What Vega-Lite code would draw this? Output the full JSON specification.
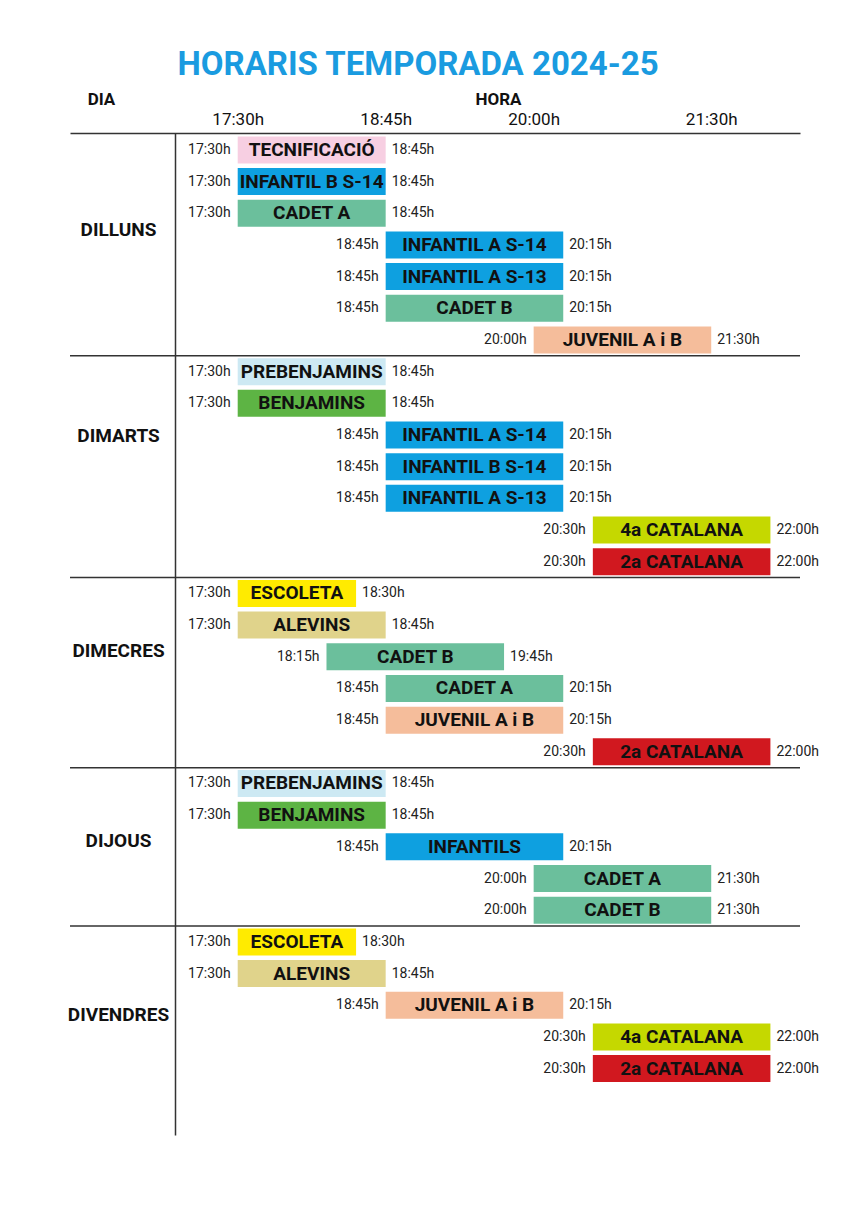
{
  "$schema": "https://vega.github.io/schema/vega-lite/v6.json",
  "width": 730,
  "height": 1002,
  "autosize": {"type": "none"},
  "padding": {"left": 70, "top": 133, "right": 52, "bottom": 71},
  "background": "white",
  "config": {"view": {"stroke": null}, "font": "Roboto"},
  "title": {"text": "HORARIS TEMPORADA 2024-25", "fontSize": 33, "fontWeight": "bold", "color": "#1a9be0", "font": "Roboto", "anchor": "middle", "dx": -17, "offset": 8},
  "data": {
    "values": [
      {"dia": "DILLUNS", "row": 1, "label": "TECNIFICACIÓ", "grup": "Tecnificació", "start": "17:30", "end": "18:45"},
      {"dia": "DILLUNS", "row": 2, "label": "INFANTIL B S-14", "grup": "Infantil", "start": "17:30", "end": "18:45"},
      {"dia": "DILLUNS", "row": 3, "label": "CADET A", "grup": "Cadet", "start": "17:30", "end": "18:45"},
      {"dia": "DILLUNS", "row": 4, "label": "INFANTIL A S-14", "grup": "Infantil", "start": "18:45", "end": "20:15"},
      {"dia": "DILLUNS", "row": 5, "label": "INFANTIL A S-13", "grup": "Infantil", "start": "18:45", "end": "20:15"},
      {"dia": "DILLUNS", "row": 6, "label": "CADET B", "grup": "Cadet", "start": "18:45", "end": "20:15"},
      {"dia": "DILLUNS", "row": 7, "label": "JUVENIL A i B", "grup": "Juvenil", "start": "20:00", "end": "21:30"},
      {"dia": "DIMARTS", "row": 8, "label": "PREBENJAMINS", "grup": "Prebenjamins", "start": "17:30", "end": "18:45"},
      {"dia": "DIMARTS", "row": 9, "label": "BENJAMINS", "grup": "Benjamins", "start": "17:30", "end": "18:45"},
      {"dia": "DIMARTS", "row": 10, "label": "INFANTIL A S-14", "grup": "Infantil", "start": "18:45", "end": "20:15"},
      {"dia": "DIMARTS", "row": 11, "label": "INFANTIL B S-14", "grup": "Infantil", "start": "18:45", "end": "20:15"},
      {"dia": "DIMARTS", "row": 12, "label": "INFANTIL A S-13", "grup": "Infantil", "start": "18:45", "end": "20:15"},
      {"dia": "DIMARTS", "row": 13, "label": "4a CATALANA", "grup": "Catalana 4a", "start": "20:30", "end": "22:00"},
      {"dia": "DIMARTS", "row": 14, "label": "2a CATALANA", "grup": "Catalana 2a", "start": "20:30", "end": "22:00"},
      {"dia": "DIMECRES", "row": 15, "label": "ESCOLETA", "grup": "Escoleta", "start": "17:30", "end": "18:30"},
      {"dia": "DIMECRES", "row": 16, "label": "ALEVINS", "grup": "Alevins", "start": "17:30", "end": "18:45"},
      {"dia": "DIMECRES", "row": 17, "label": "CADET B", "grup": "Cadet", "start": "18:15", "end": "19:45"},
      {"dia": "DIMECRES", "row": 18, "label": "CADET A", "grup": "Cadet", "start": "18:45", "end": "20:15"},
      {"dia": "DIMECRES", "row": 19, "label": "JUVENIL A i B", "grup": "Juvenil", "start": "18:45", "end": "20:15"},
      {"dia": "DIMECRES", "row": 20, "label": "2a CATALANA", "grup": "Catalana 2a", "start": "20:30", "end": "22:00"},
      {"dia": "DIJOUS", "row": 21, "label": "PREBENJAMINS", "grup": "Prebenjamins", "start": "17:30", "end": "18:45"},
      {"dia": "DIJOUS", "row": 22, "label": "BENJAMINS", "grup": "Benjamins", "start": "17:30", "end": "18:45"},
      {"dia": "DIJOUS", "row": 23, "label": "INFANTILS", "grup": "Infantil", "start": "18:45", "end": "20:15"},
      {"dia": "DIJOUS", "row": 24, "label": "CADET A", "grup": "Cadet", "start": "20:00", "end": "21:30"},
      {"dia": "DIJOUS", "row": 25, "label": "CADET B", "grup": "Cadet", "start": "20:00", "end": "21:30"},
      {"dia": "DIVENDRES", "row": 26, "label": "ESCOLETA", "grup": "Escoleta", "start": "17:30", "end": "18:30"},
      {"dia": "DIVENDRES", "row": 27, "label": "ALEVINS", "grup": "Alevins", "start": "17:30", "end": "18:45"},
      {"dia": "DIVENDRES", "row": 28, "label": "JUVENIL A i B", "grup": "Juvenil", "start": "18:45", "end": "20:15"},
      {"dia": "DIVENDRES", "row": 29, "label": "4a CATALANA", "grup": "Catalana 4a", "start": "20:30", "end": "22:00"},
      {"dia": "DIVENDRES", "row": 30, "label": "2a CATALANA", "grup": "Catalana 2a", "start": "20:30", "end": "22:00"}
    ],
    "format": {"parse": {"start": "date:'%H:%M'", "end": "date:'%H:%M'"}}
  },
  "layer": [
    {
      "mark": {"type": "bar", "size": 27},
      "encoding": {
        "x": {
          "field": "start", "type": "temporal",
          "scale": {"domain": [{"year": 1900, "month": 1, "date": 1, "hours": 16, "minutes": 5}, {"year": 1900, "month": 1, "date": 1, "hours": 22, "minutes": 15}], "nice": false},
          "axis": {
            "orient": "top",
            "values": [
              {"year": 1900, "month": 1, "date": 1, "hours": 17, "minutes": 30},
              {"year": 1900, "month": 1, "date": 1, "hours": 18, "minutes": 45},
              {"year": 1900, "month": 1, "date": 1, "hours": 20, "minutes": 0},
              {"year": 1900, "month": 1, "date": 1, "hours": 21, "minutes": 30}
            ],
            "format": "%H:%Mh",
            "labelFontSize": 17, "labelFont": "Roboto", "labelColor": "#111111", "labelPadding": 5,
            "labelFlush": false, "labelOverlap": false,
            "ticks": false, "grid": false,
            "domainColor": "#333333", "domainWidth": 1.5,
            "title": "HORA", "titleFontSize": 17, "titleFontWeight": "bold", "titleFont": "Roboto", "titleColor": "#111111",
            "titleX": 428, "titleY": -34, "titleAlign": "center", "titleBaseline": "middle", "titleAngle": 0
          }
        },
        "x2": {"field": "end"},
        "y": {
          "field": "row", "type": "quantitative",
          "scale": {"domain": [0.625, 31.9375], "reverse": true, "nice": false, "zero": false},
          "axis": {
            "orient": "left", "offset": -105,
            "values": [3.5, 10, 16.8, 22.8, 28.3],
            "labelExpr": "datum.value == 3.5 ? 'DILLUNS' : datum.value == 10 ? 'DIMARTS' : datum.value == 16.8 ? 'DIMECRES' : datum.value == 22.8 ? 'DIJOUS' : 'DIVENDRES'",
            "ticks": false, "grid": false,
            "domainColor": "#333333", "domainWidth": 1.5,
            "labelFontSize": 19, "labelFontWeight": "bold", "labelFont": "Roboto", "labelColor": "#111111",
            "labelAlign": "center", "labelBaseline": "middle", "labelPadding": 57, "labelOverlap": false, "labelFlush": false,
            "title": "DIA", "titleAngle": 0, "titleX": -74, "titleY": -34, "titleAlign": "center", "titleBaseline": "middle",
            "titleFontSize": 17, "titleFontWeight": "bold", "titleFont": "Roboto", "titleColor": "#111111"
          }
        },
        "color": {
          "field": "grup", "type": "nominal", "legend": null,
          "scale": {
            "domain": ["Tecnificació", "Infantil", "Cadet", "Juvenil", "Prebenjamins", "Benjamins", "Catalana 4a", "Catalana 2a", "Escoleta", "Alevins"],
            "range": ["#f7cfe2", "#0ea0e0", "#6bbf9c", "#f5bd9b", "#cde9f3", "#5db444", "#c5d800", "#d1181f", "#ffeb00", "#e0d38b"]
          }
        }
      }
    },
    {
      "data": {"values": [{"row": 7.5}, {"row": 14.5}, {"row": 20.5}, {"row": 25.5}]},
      "mark": {"type": "rule", "stroke": "#333333", "strokeWidth": 1.5},
      "encoding": {
        "y": {"field": "row", "type": "quantitative"}
      }
    },
    {
      "transform": [
        {"fold": ["start", "end"], "as": ["extrem", "t"]},
        {"aggregate": [{"op": "mean", "field": "t", "as": "mig"}], "groupby": ["row", "label"]}
      ],
      "mark": {"type": "text", "fontSize": 19, "fontWeight": "bold", "font": "Roboto", "color": "#111111", "baseline": "middle", "align": "center"},
      "encoding": {
        "x": {"field": "mig", "type": "temporal"},
        "y": {"field": "row", "type": "quantitative"},
        "text": {"field": "label"}
      }
    },
    {
      "mark": {"type": "text", "align": "right", "dx": -7, "fontSize": 14, "font": "Roboto", "color": "#222222", "baseline": "middle"},
      "encoding": {
        "x": {"field": "start", "type": "temporal"},
        "y": {"field": "row", "type": "quantitative"},
        "text": {"field": "start", "type": "temporal", "format": "%H:%Mh"}
      }
    },
    {
      "mark": {"type": "text", "align": "left", "dx": 6, "fontSize": 14, "font": "Roboto", "color": "#222222", "baseline": "middle"},
      "encoding": {
        "x": {"field": "end", "type": "temporal"},
        "y": {"field": "row", "type": "quantitative"},
        "text": {"field": "end", "type": "temporal", "format": "%H:%Mh"}
      }
    }
  ]
}
